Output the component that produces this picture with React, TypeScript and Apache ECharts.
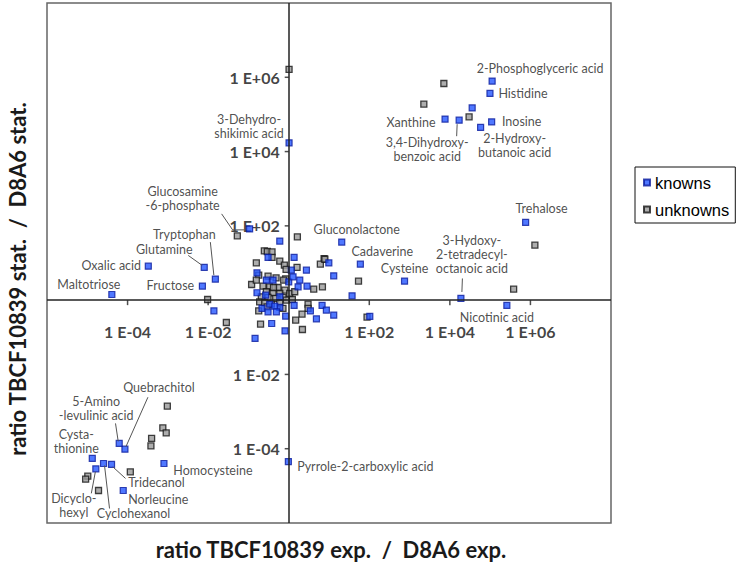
import React, { useEffect, useRef } from "react";
import * as echarts from "echarts";

// ---------- data ----------
const seriesNames = ["knowns", "unknowns"];

const labeledNames = [
  "2-Phosphoglyceric acid", "Histidine", "Inosine", "2-Hydroxy-\nbutanoic acid",
  "3,4-Dihydroxy-\nbenzoic acid", "Xanthine", "Trehalose", "Gluconolactone",
  "Cadaverine", "Cysteine", "3-Hydoxy-\n2-tetradecyl-\noctanoic acid", "Nicotinic acid",
  "Glucosamine\n-6-phosphate", "Oxalic acid", "Glutamine", "Tryptophan",
  "Fructose", "Maltotriose", "3-Dehydro-\nshikimic acid", "Pyrrole-2-carboxylic acid",
  "Quebrachitol", "5-Amino\n-levulinic acid", "Cysta-\nthionine", "Dicyclo-\nhexyl",
  "Cyclohexanol", "Tridecanol", "Norleucine", "Homocysteine",
];
const labeledX = [
  1.12e5, 9.9e4, 1.09e5, 5.8e4,
  1.7e4, 7.6e3, 7.6e5, 20.7,
  60, 750, 1.88e4, 2.6e5,
  0.107, 3.27e-4, 8.0e-3, 0.0151,
  7.2e-3, 4.07e-5, 1.02, 0.98,
  8.6e-5, 6.2e-5, 1.33e-5, 1.63e-5,
  2.53e-5, 4.0e-5, 7.8e-5, 8.0e-4,
];
const labeledY = [
  7.9e5, 3.67e5, 6.3e4, 4.47e4,
  7.0e4, 7.5e4, 124, 36.5,
  9.3, 3.25, 1.11, 0.72,
  83, 8.2, 7.6, 3.68,
  2.38, 1.42, 1.72e4, 4.5e-5,
  9.7e-5, 1.39e-4, 5.5e-5, 2.87e-5,
  4.0e-5, 3.77e-5, 7.5e-6, 4.0e-5,
];

const otherKnownX = [
  3.58e4, 0.0139, 103,
  0.60, 0.307, 1.36, 9.9, 13.1, 2.75, 1.71, 2.85, 37.4, 0.163,
  0.146, 0.81, 0.378, 0.84, 4.87, 6.73, 8.6, 13.1, 3.45, 1.36,
  0.337, 0.60, 0.217, 0.163, 0.268, 0.449, 0.494, 0.307, 1.0, 1.28,
  1.88, 0.408, 0.60, 1.16, 0.279,
];
const otherKnownY = [
  1.5e5, 0.515, 0.364,
  38.8, 14.1, 14.1, 10.1, 4.52, 6.4, 2.29, 2.38, 1.31, 5.44,
  0.093, 0.149, 0.235, 0.371, 0.314, 0.72, 0.54, 0.394, 0.516, 0.72,
  0.78, 0.635, 0.60, 1.58, 1.36, 0.69, 0.485, 0.485, 3.12, 4.25,
  3.46, 3.46, 1.23, 6.4, 3.46,
];

const unknownX = [
  7.1e3, 2.26e3, 3.0e4, 1.29e6, 3.83e5, 54, 88, 1.02, 0.053, 9.7e-3, 0.0283,
  9.7e-4, 7.5e-4, 9.1e-4, 3.95e-4, 3.8e-4, 1.17e-4, 1.03e-5, 9.1e-6, 1.9e-5,
  1.64, 0.248, 0.295, 0.385, 0.385, 0.157, 0.60, 0.78, 0.86, 1.61,
  7.55, 6.1, 0.18, 0.307, 0.485, 0.84, 0.75, 4.18, 6.86, 0.12,
  0.23, 0.337, 0.543, 0.80, 0.279, 0.408, 0.60, 1.06, 0.209, 0.307,
  0.475, 0.72, 0.19, 0.253, 0.371, 0.60, 0.875, 1.23, 3.02, 3.02,
  2.14, 1.49, 2.19, 0.20, 0.18, 0.157, 1.41, 0.29, 0.72, 0.42, 7.9,
];
const unknownY = [
  6.8e5, 1.89e5, 8.6e4, 30.3, 1.98, 3.25, 0.35, 1.63e6, 54, 1.04, 0.25,
  1.4e-3, 3.65e-4, 2.67e-4, 1.89e-4, 1.19e-4, 2.38e-5, 1.82e-5, 1.51e-5, 7.5e-6,
  50.7, 21.3, 20.4, 20.0, 14.1, 10.1, 11.2, 8.8, 6.7, 7.6,
  13.0, 9.3, 4.71, 4.43, 3.99, 3.75, 3.46, 1.98, 2.29, 2.64,
  2.38, 2.29, 2.19, 1.86, 1.68, 1.58, 1.51, 1.51, 1.23, 1.18,
  1.11, 1.18, 0.90, 0.85, 0.78, 0.85, 1.0, 1.04, 0.78, 0.60,
  0.42, 0.29, 0.162, 0.226, 0.516, 3.46, 1.68, 0.66, 0.60, 2.19, 12.6,
];

const tickValues = [1e-4, 1e-2, 1e2, 1e4, 1e6];
const tickLabels = ["1 E-04", "1 E-02", "1 E+02", "1 E+04", "1 E+06"];
const axisMin = 1e-6;
const axisMax = 1e8;
const axisCross = 1;

const xTitle = "ratio TBCF10839 exp.  /  D8A6 exp.";
const yTitle = "ratio TBCF10839 stat.  /  D8A6 stat.";

// ---------- layout (pixel offsets relative to each labelled point) ----------
const labelOffsets: Record<string, [number, number]> = {
  "2-Phosphoglyceric acid": [48, -13],
  "Histidine": [33, 0],
  "Inosine": [30, 0],
  "2-Hydroxy-\nbutanoic acid": [34, 18],
  "3,4-Dihydroxy-\nbenzoic acid": [-32, 29],
  "Xanthine": [-34, 3],
  "Trehalose": [16, -14],
  "Gluconolactone": [15, -13],
  "Cadaverine": [22, -13],
  "Cysteine": [0, -13],
  "3-Hydoxy-\n2-tetradecyl-\noctanoic acid": [11, -44],
  "Nicotinic acid": [-10, 12],
  "Glucosamine\n-6-phosphate": [-67, -30],
  "Oxalic acid": [-37, -1],
  "Glutamine": [-40, -18],
  "Tryptophan": [-31, -45],
  "Fructose": [-32, -1],
  "Maltotriose": [-23, -10],
  "3-Dehydro-\nshikimic acid": [-40, -16],
  "Pyrrole-2-carboxylic acid": [77, 5],
  "Quebrachitol": [34, -62],
  "5-Amino\n-levulinic acid": [-23, -35],
  "Cysta-\nthionine": [-16, -17],
  "Dicyclo-\nhexyl": [-22, 37],
  "Cyclohexanol": [30, 50],
  "Tridecanol": [45, 18],
  "Norleucine": [35, 9],
  "Homocysteine": [49, 7],
};
const leaderLines: Record<string, number[][]> = {
  "Glucosamine\n-6-phosphate": [[-28, -15], [-17, 1], [-5, 1]],
  "Glutamine": [[-16, -12], [-2, -2]],
  "Tryptophan": [[-5, -37], [-1.5, -4]],
  "3,4-Dihydroxy-\nbenzoic acid": [[-2, 4], [-2.5, 16]],
  "3-Hydoxy-\n2-tetradecyl-\noctanoic acid": [[1.5, -20], [1, -6.5]],
  "Quebrachitol": [[23, -52], [1, -2.5]],
  "5-Amino\n-levulinic acid": [[-3.7, -20], [-1, -2]],
  "Dicyclo-\nhexyl": [[-4.5, 24.5], [-0.5, 3]],
  "Cyclohexanol": [[6, 45], [1, 2]],
  "Tridecanol": [[14, 14], [1.3, 2.4]],
};

const KNOWN_STYLE = { color: "#2456ff", borderColor: "#0a1c9e", borderWidth: 1.2 };
const UNKNOWN_STYLE = { color: "#9a9a9a", borderColor: "#141414", borderWidth: 1.3 };

export default function App() {
  const ref = useRef<HTMLDivElement>(null);

  useEffect(() => {
    if (!ref.current) return;
    const chart = echarts.init(ref.current, null, { renderer: "svg" });

    const labeledData = labeledNames.map((name, i) => {
      const off = labelOffsets[name] || [0, -12];
      return {
        name,
        value: [labeledX[i], labeledY[i]],
        label: {
          show: true,
          formatter: name,
          position: "inside",
          offset: off,
          align: "center",
          verticalAlign: "middle",
          color: "#222",
          fontFamily: "Lato",
          fontSize: 12.5,
          lineHeight: 14,
        },
      };
    });
    const otherKnownData = otherKnownX.map((x, i) => [x, otherKnownY[i]]);
    const unknownData = unknownX.map((x, i) => [x, unknownY[i]]);

    const logAxis = {
      type: "log",
      logBase: 10,
      min: axisMin,
      max: axisMax,
      axisLine: { show: false },
      axisTick: { show: false },
      axisLabel: { show: false },
      splitLine: { show: false },
    };

    const tickLabelStyle = {
      show: true,
      fontFamily: "Lato",
      fontWeight: "bold",
      fontSize: 16,
      color: "#111",
    };

    const option: any = {
      animation: false,
      grid: {
        left: 47,
        top: 3,
        width: 564,
        height: 520,
        show: true,
        borderColor: "#666",
        borderWidth: 1.5,
        backgroundColor: "transparent",
      },
      xAxis: logAxis,
      yAxis: logAxis,
      legend: {
        data: seriesNames,
        orient: "vertical",
        left: 635,
        top: 167,
        itemWidth: 6,
        itemHeight: 6,
        itemGap: 10,
        padding: [7, 6, 5, 8],
        borderColor: "#111",
        borderWidth: 1,
        icon: "rect",
        textStyle: { fontFamily: "Liberation Sans", fontSize: 16.5, color: "#000", lineHeight: 16 },
      },
      series: [
        {
          name: "xTicks",
          type: "scatter",
          silent: true,
          z: 1,
          symbol: "rect",
          symbolSize: [1.5, 5],
          symbolOffset: [0, 2.5],
          itemStyle: { color: "#222" },
          data: tickValues.map((v) => [v, axisCross]),
          label: {
            ...tickLabelStyle,
            position: "bottom",
            distance: 18,
            formatter: (p: any) => tickLabels[p.dataIndex],
          },
          markLine: {
            silent: true,
            symbol: ["none", "none"],
            label: { show: false },
            lineStyle: { color: "#222", width: 1.5, type: "solid" },
            data: [{ xAxis: axisCross }, { yAxis: axisCross }],
          },
        },
        {
          name: "yTicks",
          type: "scatter",
          silent: true,
          z: 1,
          symbol: "rect",
          symbolSize: [4, 1.5],
          symbolOffset: [-2, 0],
          itemStyle: { color: "#222" },
          data: tickValues.map((v) => [axisCross, v]),
          label: {
            ...tickLabelStyle,
            position: "left",
            distance: 5,
            formatter: (p: any) => tickLabels[p.dataIndex],
          },
        },
        {
          name: seriesNames[1],
          type: "scatter",
          z: 3,
          symbol: "rect",
          symbolSize: 6,
          itemStyle: UNKNOWN_STYLE,
          data: unknownData,
        },
        {
          name: seriesNames[0],
          type: "scatter",
          z: 4,
          symbol: "rect",
          symbolSize: 6,
          itemStyle: KNOWN_STYLE,
          data: [...otherKnownData, ...labeledData],
        },
      ],
    };
    chart.setOption(option);

    const lines: any[] = [];
    labeledNames.forEach((name, i) => {
      const L = leaderLines[name];
      if (!L) return;
      const p = chart.convertToPixel({ gridIndex: 0 } as any, [labeledX[i], labeledY[i]]) as number[];
      lines.push({
        type: "polyline",
        silent: true,
        z: 5,
        shape: { points: L.map(([dx, dy]) => [p[0] + dx, p[1] + dy]) },
        style: { stroke: "#555", lineWidth: 1, fill: null },
      });
    });

    chart.setOption({
      graphic: [
        {
          type: "text",
          x: 331,
          y: 549,
          style: {
            text: xTitle,
            fontFamily: "Lato",
            fontWeight: "bold",
            fontSize: 22,
            fill: "#1a1a1a",
            align: "center",
            verticalAlign: "middle",
          },
        },
        {
          type: "text",
          x: 17,
          y: 279,
          rotation: Math.PI / 2,
          style: {
            text: yTitle,
            fontFamily: "Lato",
            fontWeight: "bold",
            fontSize: 22,
            fill: "#1a1a1a",
            align: "center",
            verticalAlign: "middle",
          },
        },
        ...lines,
      ],
    });

    return () => chart.dispose();
  }, []);

  return <div ref={ref} style={{ width: 739, height: 563, position: "absolute", left: 0, top: 0 }} />;
}
